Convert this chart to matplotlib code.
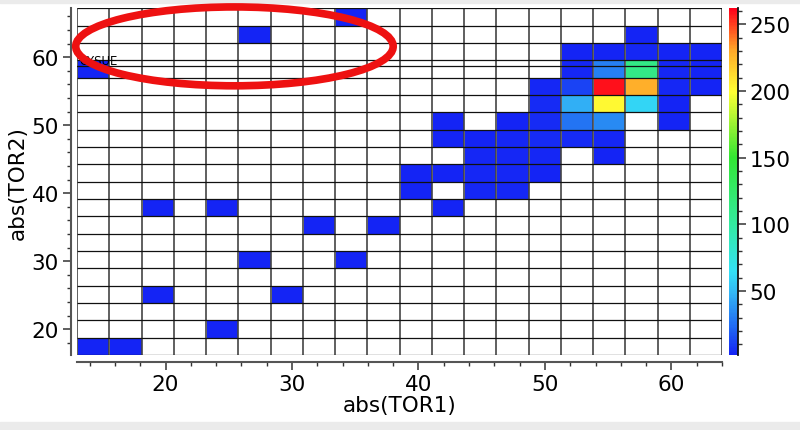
import numpy as np
import matplotlib
matplotlib.use("Agg")
from matplotlib import pyplot as plt
from matplotlib.colors import LinearSegmentedColormap
from matplotlib.patches import Ellipse, Rectangle
from matplotlib.ticker import MultipleLocator

# 2D histogram of abs(TOR1) vs abs(TOR2), 20 x 20 bins
x_edges = np.linspace(13.0, 64.0, 21)
y_edges = np.linspace(16.2, 67.2, 21)

# non-empty bins: (column index, row index, count)
cell_cols = [0, 1, 4, 2, 6, 5, 8, 7, 9, 2, 4, 11,
             10, 12, 13,
             10, 11, 12, 13, 14,
             12, 13, 14, 16,
             11, 12, 13, 14, 15, 16,
             11, 13, 14, 15, 16, 18,
             14, 15, 16, 17, 18,
             14, 15, 16, 17, 18, 19,
             0, 15, 16, 17, 18, 19,
             15, 16, 17, 18, 19,
             5, 17, 8]
cell_rows = [0, 0, 1, 3, 3, 5, 5, 7, 7, 8, 8, 8,
             9, 9, 9,
             10, 10, 10, 10, 10,
             11, 11, 11, 11,
             12, 12, 12, 12, 12, 12,
             13, 13, 13, 13, 13, 13,
             14, 14, 14, 14, 14,
             15, 15, 15, 15, 15, 15,
             16, 16, 16, 16, 16, 16,
             17, 17, 17, 17, 17,
             18, 18, 19]
cell_counts = [3, 3, 2, 2, 2, 2, 2, 2, 2, 2, 2, 2,
               3, 4, 4,
               3, 3, 4, 4, 3,
               4, 4, 4, 3,
               3, 3, 4, 5, 5, 4,
               2, 3, 5, 27, 34, 3,
               5, 46, 202, 60, 3,
               4, 12, 258, 228, 4, 3,
               3, 4, 31, 112, 4, 3,
               3, 3, 4, 3, 2,
               2, 3, 2]

cb_ticks = [50, 100, 150, 200, 250]
extra_line_y = 58.72
note_text = "CYSUE"

counts = np.zeros((20, 20))
for c, r, v in zip(cell_cols, cell_rows, cell_counts):
    counts[r, c] = v
counts = np.ma.masked_equal(counts, 0)

cmap = LinearSegmentedColormap.from_list("rainbow_igor", [
    (0.00, (0.08, 0.14, 0.96)),
    (0.07, (0.12, 0.38, 0.95)),
    (0.18, (0.20, 0.72, 0.96)),
    (0.24, (0.20, 0.88, 0.96)),
    (0.38, (0.20, 0.92, 0.62)),
    (0.57, (0.20, 0.90, 0.20)),
    (0.76, (1.00, 1.00, 0.20)),
    (0.88, (1.00, 0.66, 0.16)),
    (1.00, (1.00, 0.00, 0.10)),
])

plt.rcParams['font.family'] = ['DejaVu Sans']
fig = plt.figure(figsize=(8, 4.31), dpi=100)
W, H = 800, 431
ax = fig.add_axes([77 / W, 1 - 356 / H, (722 - 77) / W, (356 - 9.3) / H])
cax = fig.add_axes([729 / W, 1 - 356 / H, 9 / W, (356 - 9.3) / H])

# grey screenshot strips
fig.patches.append(Rectangle((0, 1 - 4 / H), 1, 4 / H, transform=fig.transFigure,
                             color='#ebebeb', zorder=-10))
fig.patches.append(Rectangle((0, 0), 1, 8 / H, transform=fig.transFigure,
                             color='#ebebeb', zorder=-10))

mesh = ax.pcolormesh(x_edges, y_edges, counts, cmap=cmap, vmin=2, vmax=262,
                     edgecolors='white', linewidth=0.7)
ax.vlines(x_edges, y_edges[0], y_edges[-1], colors='#444444', linewidth=1.2, zorder=3)
ax.hlines(y_edges, x_edges[0], x_edges[-1], colors='#111111', linewidth=0.9, zorder=3)
ax.axhline(extra_line_y, color='#111111', linewidth=0.9, zorder=3)

ax.set_xlim(x_edges[0], x_edges[-1])
ax.set_ylim(y_edges[0], y_edges[-1])
ax.xaxis.set_major_locator(MultipleLocator(10))
ax.xaxis.set_minor_locator(MultipleLocator(2))
ax.yaxis.set_major_locator(MultipleLocator(10))
ax.yaxis.set_minor_locator(MultipleLocator(2))

for s in ['top', 'right']:
    ax.spines[s].set_visible(False)
ax.spines['left'].set_position(('outward', 4.5))
ax.spines['bottom'].set_position(('outward', 5))
for s in ['left', 'bottom']:
    ax.spines[s].set_color('#555555')
    ax.spines[s].set_linewidth(1.5)
ax.tick_params(which='major', direction='out', length=5.5, width=1.1,
               color='#333333', labelsize=15.5, pad=3)
ax.tick_params(which='minor', direction='out', length=3, width=1.0, color='#333333')

ax.set_xlabel("abs(TOR1)", fontsize=15.5, labelpad=1)
ax.set_ylabel("abs(TOR2)", fontsize=15.5, labelpad=3)

ax.text(x_edges[0] + 0.15, 59.45, note_text, fontsize=8.5, ha='left', va='center', zorder=5)

ell = Ellipse((25.45, 61.6), 25.1, 11.6, fill=False, edgecolor='#ee1111',
              linewidth=5.5, clip_on=False, zorder=6)
ax.add_patch(ell)

cb = fig.colorbar(mesh, cax=cax, ticks=cb_ticks)
cb.outline.set_visible(False)
cax.yaxis.set_minor_locator(MultipleLocator(10))
cax.tick_params(which='major', direction='out', length=5.5, width=1.1,
                color='#333333', labelsize=15.5, pad=3)
cax.tick_params(which='minor', direction='out', length=3, width=1.0, color='#333333')
cax.plot([1, 1], [0, 1], transform=cax.transAxes, color='#111111', lw=1.3, clip_on=False)

fig.savefig("out.png", dpi=100)
